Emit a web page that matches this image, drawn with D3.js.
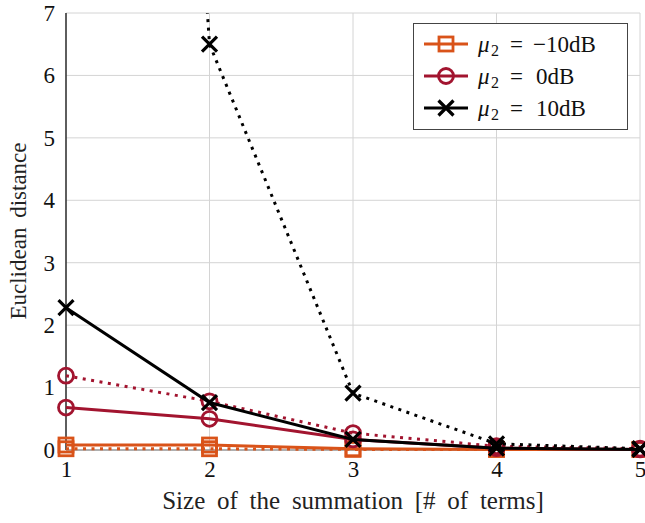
<!DOCTYPE html>
<html><head><meta charset="utf-8">
<script src="https://cdn.jsdelivr.net/npm/d3@7"></script>
<style>body{margin:0;background:#fff}svg text{font-family:"Liberation Serif","DejaVu Serif",serif !important}</style>
</head><body><svg id="c" width="645" height="523"></svg>
<script>
const xs = [1, 2, 3, 4, 5];
const xTicks = [1, 2, 3, 4, 5];
const yTicks = [0, 1, 2, 3, 4, 5, 6, 7];
const seriesNames = ["−10dB", "0dB", "10dB"];
const colors = ["#D95319", "#A2142F", "#000000"];
const markers = ["square", "circle", "cross"];
const solidVals = [
  [0.08, 0.08, 0.02, 0.01, 0.01],
  [0.68, 0.50, 0.17, 0.03, 0.01],
  [2.28, 0.76, 0.17, 0.03, 0.01]
];
const dottedVals = [
  [0.02, 0.02, 0.01, 0.01, 0.01],
  [1.19, 0.78, 0.27, 0.06, 0.02],
  [41.0, 6.50, 0.91, 0.10, 0.02]
];

const svg = d3.select("#c");
const L = 66, R = 640, T = 13, B = 450;
const x = d3.scaleLinear().domain([1, 5]).range([L, R]);
const y = d3.scaleLinear().domain([0, 7]).range([B, T]);

svg.append("defs").append("clipPath").attr("id", "clip")
  .append("rect").attr("x", L - 12).attr("y", T).attr("width", R - L + 24).attr("height", B - T + 14);

// grid
svg.append("g").selectAll("line").data(yTicks).join("line")
  .attr("x1", L).attr("x2", R).attr("y1", d => y(d)).attr("y2", d => y(d))
  .attr("stroke", "#d4d4d4").attr("stroke-width", 1);
svg.append("g").selectAll("line").data(xTicks).join("line")
  .attr("y1", T).attr("y2", B).attr("x1", d => x(d)).attr("x2", d => x(d))
  .attr("stroke", "#d4d4d4").attr("stroke-width", 1);

// axes
svg.append("line").attr("x1", L).attr("x2", R).attr("y1", B).attr("y2", B).attr("stroke", "#777").attr("stroke-width", 1.2);
svg.append("line").attr("x1", L).attr("x2", L).attr("y1", T).attr("y2", B).attr("stroke", "#000").attr("stroke-width", 1.2);

const yAxis = d3.axisLeft(y).tickValues(yTicks).tickSize(0).tickPadding(11).tickFormat(d3.format("d"));
const gy = svg.append("g").attr("transform", `translate(${L},0)`).call(yAxis)
  .attr("font-family", "Liberation Serif");
gy.select(".domain").remove();
gy.selectAll("text").attr("font-size", 23).attr("fill", "#111");

const xAxis = d3.axisBottom(x).tickValues(xTicks).tickSize(0).tickPadding(11).tickFormat(d3.format("d"));
const gx = svg.append("g").attr("transform", `translate(0,${B})`).call(xAxis)
  .attr("font-family", "Liberation Serif");
gx.select(".domain").remove();
gx.selectAll("text").attr("font-size", 23).attr("fill", "#111");

svg.append("text").attr("x", (L + R) / 2).attr("y", 509).attr("text-anchor", "middle")
  .attr("font-size", 25).attr("word-spacing", 5.5).attr("fill", "#222").text("Size of the summation [# of terms]");
svg.append("text").attr("transform", `translate(26,231) rotate(-90)`).attr("text-anchor", "middle")
  .attr("font-size", 23).attr("word-spacing", 4).attr("fill", "#222").text("Euclidean distance");

const line = d3.line().x((d, i) => x(xs[i])).y(d => y(d));
const plot = svg.append("g").attr("clip-path", "url(#clip)");

function drawMarker(g, type, cx, cy, color) {
  if (type === "square") {
    g.append("rect").attr("x", cx - 7).attr("y", cy - 7).attr("width", 14).attr("height", 14)
      .attr("fill", "none").attr("stroke", color).attr("stroke-width", 2.8);
  } else if (type === "circle") {
    g.append("circle").attr("cx", cx).attr("cy", cy).attr("r", 7.5)
      .attr("fill", "none").attr("stroke", color).attr("stroke-width", 2.8);
  } else {
    const s = 7.5;
    g.append("path").attr("d", `M${cx - s},${cy - s}L${cx + s},${cy + s}M${cx - s},${cy + s}L${cx + s},${cy - s}`)
      .attr("stroke", color).attr("stroke-width", 3.2).attr("fill", "none");
  }
}

for (let k = 0; k < 3; k++) {
  [solidVals[k], dottedVals[k]].forEach((vals, j) => {
    plot.append("path").datum(vals).attr("d", line).attr("fill", "none")
      .attr("stroke", colors[k]).attr("stroke-width", 3)
      .attr("stroke-dasharray", j === 1 ? "3,5.5" : null);
    vals.forEach((v, i) => {
      if (v <= 7) drawMarker(plot, markers[k], x(xs[i]), y(v), colors[k]);
    });
  });
}

// legend
const lg = svg.append("g");
lg.append("rect").attr("x", 413.5).attr("y", 23.5).attr("width", 214).attr("height", 106)
  .attr("fill", "#fff").attr("stroke", "#444").attr("stroke-width", 1);
seriesNames.forEach((n, k) => {
  const ry = 44 + k * 32;
  lg.append("line").attr("x1", 424).attr("x2", 468).attr("y1", ry).attr("y2", ry)
    .attr("stroke", colors[k]).attr("stroke-width", 3);
  drawMarker(lg, markers[k], 446, ry, colors[k]);
  const t = lg.append("text").attr("y", ry + 8).attr("font-size", 23).attr("fill", "#111");
  t.append("tspan").attr("x", 478).attr("font-style", "italic").text("μ");
  t.append("tspan").attr("x", 491).attr("font-size", 16).attr("dy", 4).text("2");
  t.append("tspan").attr("x", 510).attr("dy", -4).text("=");
  t.append("tspan").attr("x", n.startsWith("−") ? 533 : 536).text(n);
});
</script></body></html>
